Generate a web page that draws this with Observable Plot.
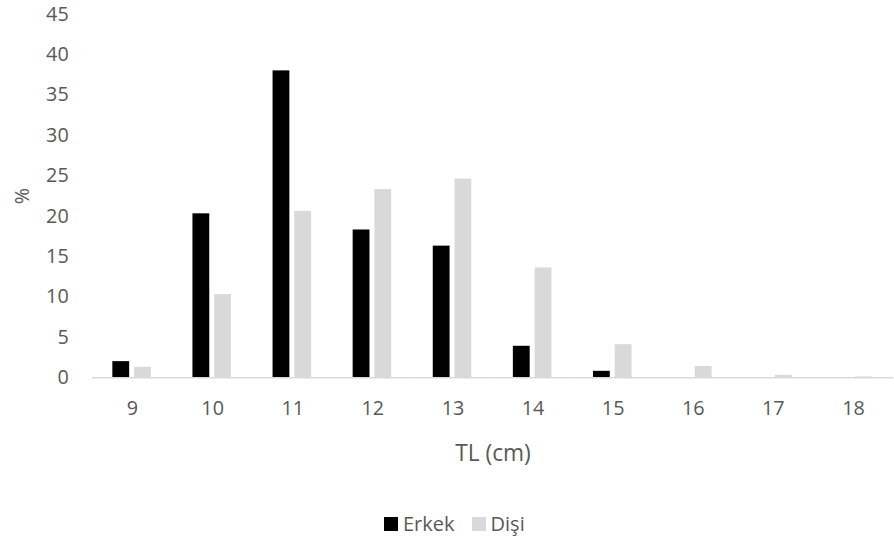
<!DOCTYPE html>
<html>
<head>
<meta charset="utf-8">
<script src="https://cdn.jsdelivr.net/npm/d3@7"></script>
<script src="https://cdn.jsdelivr.net/npm/@observablehq/plot@0.6"></script>
<style>
  html, body { margin: 0; padding: 0; background: #fff; }
  #wrap { width: 894px; height: 540px; overflow: hidden; position: relative; }
  #chart svg { display: block; }
  g[aria-label="fx-axis label"] text { font-size: 23px; }
  #legend { position: absolute; left: 384px; top: 507px; }
  #legend span { margin-right: 17px !important; }
  #legend span > svg { margin-right: 5px !important; }
</style>
</head>
<body>
<div id="wrap">
  <div id="chart"></div>
  <div id="legend"></div>
</div>
<script>
const tl = [9, 10, 11, 12, 13, 14, 15, 16, 17, 18];
const erkek = [2.0, 20.3, 38.0, 18.3, 16.3, 3.9, 0.8, 0, 0, 0];
const disi = [1.3, 10.3, 20.6, 23.3, 24.6, 13.6, 4.1, 1.4, 0.3, 0.1];
const series = ["Erkek", "Dişi"];
const colors = ["#000000", "#d9d9d9"];
const yTicks = [0, 5, 10, 15, 20, 25, 30, 35, 40, 45];

const data = [];
tl.forEach((t, i) => {
  data.push({tl: t, sex: series[0], value: erkek[i]});
  data.push({tl: t, sex: series[1], value: disi[i]});
});

const chart = Plot.plot({
  width: 904,
  height: 480,
  marginLeft: 91.4,
  marginRight: 0,
  marginTop: 14,
  marginBottom: 98.5,
  style: {fontFamily: "'Open Sans', sans-serif", fontSize: "20px", color: "#595959", background: "#fff"},
  fx: {domain: tl, padding: 0, axis: "bottom", tickSize: 0, tickPadding: 23, label: "TL (cm)", labelAnchor: "center", labelOffset: 84},
  x: {domain: series, axis: null, paddingInner: 0.22, paddingOuter: 0.9},
  y: {domain: [0, 45], ticks: yTicks, tickSize: 0, tickPadding: 24, label: "%", labelArrow: false, labelAnchor: "center", labelOffset: 78},
  color: {domain: series, range: colors},
  marks: [
    Plot.barY(data, {fx: "tl", x: "sex", y: "value", fill: "sex"}),
    Plot.ruleY([0], {stroke: "#d9d9d9", strokeWidth: 1.5})
  ]
});
document.getElementById("chart").appendChild(chart);

const leg = Plot.legend({
  color: {domain: series, range: colors},
  swatchSize: 14,
  style: {fontFamily: "'Open Sans', sans-serif", fontSize: "20px", color: "#595959", margin: "0"}
});
document.getElementById("legend").appendChild(leg);
</script>
</body>
</html>
